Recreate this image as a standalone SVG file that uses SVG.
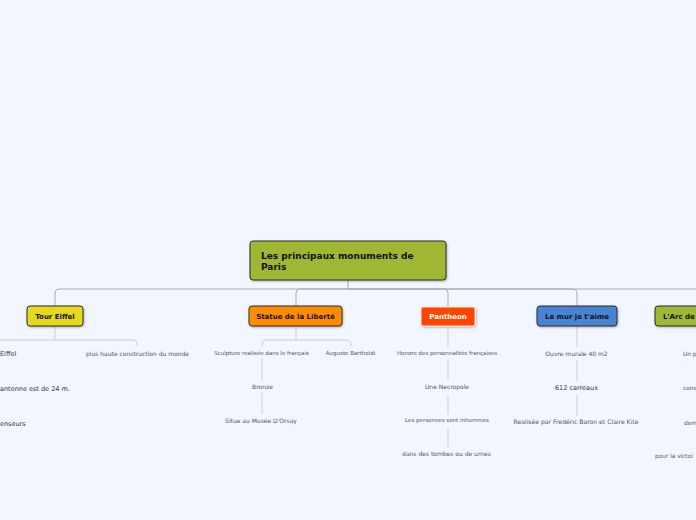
<svg xmlns="http://www.w3.org/2000/svg" width="696" height="520" viewBox="0 0 696 520">
<defs>
<filter id="sh" x="-20%" y="-30%" width="140%" height="170%">
<feDropShadow dx="0.8" dy="1" stdDeviation="0.8" flood-color="#000" flood-opacity="0.3"/>
</filter>
<style>
.node rect{stroke:#2b2b2b;stroke-width:1;filter:url(#sh)}
.nt{font-family:"DejaVu Sans","Liberation Sans",sans-serif;font-weight:bold;font-size:7px;fill:#111;text-anchor:middle}
.lf{font-family:"DejaVu Sans","Liberation Sans",sans-serif;font-size:5.6px;fill:#555;text-anchor:middle}
.lb{font-family:"DejaVu Sans","Liberation Sans",sans-serif;font-size:6.5px;fill:#333}
.main{fill:none;stroke:#a9abb0;stroke-width:1}
.sub{fill:none;stroke:#c9cdd8;stroke-width:1}
</style>
</defs>
<rect x="0" y="0" width="696" height="520" fill="#f2f6fe"/>
<g id="connectors">
<path class="main" d="M348 280 V289"/>
<path class="main" d="M348 289 H59 Q55 289 55 293 V306"/>
<path class="main" d="M348 289 H300 Q296 289 296 293 V306"/>
<path class="main" d="M348 289 H444 Q448 289 448 293 V307"/>
<path class="main" d="M348 289 H573 Q577 289 577 293 V306"/>
<path class="main" d="M348 289 H700"/>
<path class="sub" d="M55 326 V340"/>
<path class="sub" d="M-10 340 H133 Q137 340 137 344 V346"/>
<path class="sub" d="M296 326 V340"/>
<path class="sub" d="M266 340 H347 Q351 340 351 344 V346"/>
<path class="sub" d="M266 340 Q262 340 262 344 V347"/>
<path class="sub" d="M262 358 V380"/>
<path class="sub" d="M262 393 V414"/>
<path class="sub" d="M448 326 V347"/>
<path class="sub" d="M448 360 V380"/>
<path class="sub" d="M448 395 V414"/>
<path class="sub" d="M448 428 V447"/>
<path class="sub" d="M577 326 V347"/>
<path class="sub" d="M577 360 V381"/>
<path class="sub" d="M577 395 V416"/>
</g>
<g id="root" class="node">
<rect x="250" y="241" width="196" height="39" rx="3" fill="#9fb732"/>
<text x="261" y="259" font-family="DejaVu Sans, Liberation Sans, sans-serif" font-weight="bold" font-size="9" fill="#111">Les principaux monuments de</text>
<text x="261" y="270" font-family="DejaVu Sans, Liberation Sans, sans-serif" font-weight="bold" font-size="9" fill="#111">Paris</text>
</g>
<g id="tour-eiffel" class="node">
<rect x="27" y="306" width="56" height="20" rx="3" fill="#e6d81a"/>
<text class="nt" x="55" y="318.5">Tour Eiffel</text>
</g>
<g id="statue" class="node">
<rect x="249" y="306" width="93" height="20" rx="3" fill="#ff8c00"/>
<text class="nt" x="295.5" y="318.5">Statue de la Liberté</text>
</g>
<g id="pantheon">
<rect x="421" y="307" width="54" height="19" rx="2" fill="#ff4500" stroke="#ffffff" stroke-width="0.8" filter="url(#sh)"/>
<text class="nt" x="448" y="318.8" style="fill:#fff">Pantheon</text>
</g>
<g id="mur" class="node">
<rect x="537" y="306" width="80" height="20" rx="3" fill="#4a84d4"/>
<text class="nt" x="577" y="318.5">Le mur je t'aime</text>
</g>
<g id="arc" class="node">
<rect x="655" y="306" width="60" height="20" rx="3" fill="#9fb732"/>
<text class="nt" x="663" y="318.5" style="text-anchor:start">L'Arc de</text>
</g>
<g id="tour-children">
<text class="lb" x="0" y="355.5">Eiffel</text>
<text class="lf" x="137.5" y="355.8" style="font-size:6px">plus haute construction du monde</text>
<text class="lb" x="0" y="390.5">antenne est de 24 m.</text>
<text class="lb" x="0" y="425.5">enseurs</text>
</g>
<g id="statue-children">
<text class="lf" x="261.5" y="355.2" style="font-size:5.5px">Sculpture realisée dans le français</text>
<text class="lf" x="350.5" y="355.2" style="font-size:5.5px">Auguste Bartholdi</text>
<text class="lf" x="262.5" y="389" style="font-size:6px">Bronze</text>
<text class="lf" x="261" y="423" style="font-size:6px">Situe au Musée D'Orsay</text>
</g>
<g id="pantheon-children">
<text class="lf" x="447" y="355.2" style="font-size:5.5px">Honore des personnalités françaises</text>
<text class="lf" x="447" y="389" style="font-size:6px">Une Necropole</text>
<text class="lf" x="447" y="422" style="font-size:5.5px">Les personnes sont inhummes</text>
<text class="lf" x="446.5" y="456" style="font-size:6px">dans des tombes ou de urnes</text>
</g>
<g id="mur-children">
<text class="lf" x="576.5" y="355.8" style="font-size:6px">Ouvre murale 40 m2</text>
<text class="lb" x="576.5" y="389.5" style="text-anchor:middle">612 carreaux</text>
<text class="lf" x="576" y="424" style="font-size:6.1px">Realisée par Fredéric Baron et Claire Kite</text>
</g>
<g id="arc-children">
<text class="lf" x="683" y="355.5" style="text-anchor:start;font-size:5.8px">Un p</text>
<text class="lf" x="683" y="390" style="text-anchor:start;font-size:5.8px">cons</text>
<text class="lf" x="684" y="424.5" style="text-anchor:start;font-size:5.8px">dem</text>
<text class="lf" x="655" y="458" style="text-anchor:start;font-size:5.8px">pour la victoi</text>
</g>
</svg>
